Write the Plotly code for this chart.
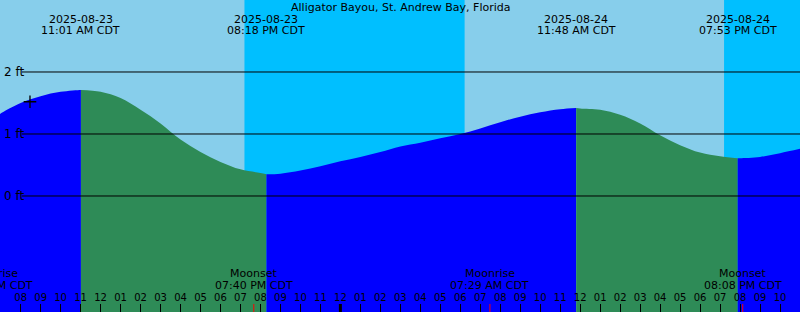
import plotly.graph_objects as go
import pandas as pd

# ---------------- data ----------------
station = "Alligator Bayou, St. Andrew Bay, Florida"

range_start = "2025-08-23 06:58"
range_end = "2025-08-24 23:00"

# hourly tide heights (ft), starting 2025-08-23 07:00
hourly_start = "2025-08-23 07:00"
hourly_heights = [1.33, 1.50, 1.61, 1.68, 1.71, 1.68, 1.58, 1.39, 1.17, 0.91,
                  0.71, 0.55, 0.43, 0.37, 0.36, 0.41, 0.48, 0.56, 0.63, 0.71,
                  0.80, 0.86, 0.93, 1.00, 1.09, 1.19, 1.28, 1.35, 1.40, 1.41,
                  1.39, 1.31, 1.17, 0.98, 0.82, 0.70, 0.64, 0.61, 0.63, 0.69,
                  0.76]
edge_time = "2025-08-23 06:58"
edge_height = 1.32

tide_event_times = ["2025-08-23 11:01", "2025-08-23 20:18",
                    "2025-08-24 11:48", "2025-08-24 19:53"]
tide_event_heights = [1.71, 0.35, 1.42, 0.61]
tide_event_dates = ["2025-08-23", "2025-08-23", "2025-08-24", "2025-08-24"]
tide_event_clock = ["11:01 AM CDT", "08:18 PM CDT", "11:48 AM CDT", "07:53 PM CDT"]

sunset_times = ["2025-08-23 19:12", "2025-08-24 19:12"]
sunrise_times = ["2025-08-24 06:13", "2025-08-24 23:00"]

moon_event_times = ["2025-08-23 06:37", "2025-08-23 19:40",
                    "2025-08-24 07:29", "2025-08-24 20:08"]
moon_event_names = ["Moonrise", "Moonset", "Moonrise", "Moonset"]
moon_event_clock = ["06:37 AM CDT", "07:40 PM CDT", "07:29 AM CDT", "08:08 PM CDT"]

now_time = "2025-08-23 08:28"
now_height = 1.52

level_values = [0, 1, 2]
level_labels = ["0 ft", "1 ft", "2 ft"]

y_range = [-1.871, 3.161]

# ---------------- styling ----------------
W, H = 800, 312
FONT = "DejaVu Sans"
DAY = "#87CEEB"
NIGHT = "#00BFFF"
RISE = "#0000FF"
FALL = "#2E8B57"

T0 = pd.Timestamp(range_start)
T1 = pd.Timestamp(range_end)


def xfrac(t):
    return (pd.Timestamp(t) - T0) / (T1 - T0)


def ypaper(px):
    return 1 - px / H


hourly_times = pd.date_range(hourly_start, periods=len(hourly_heights), freq="h")
pts = [(pd.Timestamp(edge_time), edge_height)]
pts += list(zip(hourly_times, hourly_heights))
pts += [(pd.Timestamp(t), h) for t, h in zip(tide_event_times, tide_event_heights)]
pts.sort(key=lambda p: p[0])

bounds = [pts[0][0]] + [pd.Timestamp(t) for t in tide_event_times] + [pts[-1][0]]

fig = go.Figure()
for i in range(len(bounds) - 1):
    b0, b1 = bounds[i], bounds[i + 1]
    seg = [p for p in pts if b0 <= p[0] <= b1]
    color = RISE if i % 2 == 0 else FALL
    fig.add_trace(go.Scatter(x=[b0, b1], y=[y_range[0], y_range[0]], mode="lines",
                             line=dict(width=0), hoverinfo="skip"))
    fig.add_trace(go.Scatter(x=[p[0] for p in seg], y=[p[1] for p in seg],
                             mode="lines", line=dict(width=0, shape="spline", smoothing=1),
                             fill="tonexty", fillcolor=color, hoverinfo="skip"))

fig.add_trace(go.Scatter(x=[now_time], y=[now_height], mode="markers",
                         marker=dict(symbol="cross-thin", size=9,
                                     line=dict(color="black", width=1.3)),
                         hoverinfo="skip"))

shapes = []
for s, r in zip(sunset_times, sunrise_times):
    shapes.append(dict(type="rect", xref="x", yref="paper", x0=s, x1=r, y0=0, y1=1,
                       fillcolor=NIGHT, line=dict(width=0), layer="below"))
for v in level_values:
    shapes.append(dict(type="line", xref="paper", yref="y", x0=22 / W, x1=1, y0=v, y1=v,
                       line=dict(color="black", width=1), layer="above"))
for t in moon_event_times:
    shapes.append(dict(type="line", xref="x", yref="paper", x0=t, x1=t, y0=0, y1=8 / H,
                       line=dict(color="red", width=1), layer="above"))
shapes.append(dict(type="line", xref="x", yref="paper", x0="2025-08-24 00:00",
                   x1="2025-08-24 00:00", y0=0, y1=8 / H,
                   line=dict(color="black", width=3), layer="above"))

ann = []
f11 = dict(family=FONT, size=11, color="black")
ann.append(dict(text=station, xref="paper", yref="paper", x=0.5, y=ypaper(7.5),
                showarrow=False, font=f11, xanchor="center", yanchor="middle"))
for t, d, c in zip(tide_event_times, tide_event_dates, tide_event_clock):
    for txt, py in ((d, 19), (c, 31)):
        ann.append(dict(text=txt, xref="paper", yref="paper", x=xfrac(t), y=ypaper(py),
                        showarrow=False, font=f11, xanchor="center", yanchor="middle"))
for t, n, c in zip(moon_event_times, moon_event_names, moon_event_clock):
    for txt, py in ((n, 273), (c, 285)):
        ann.append(dict(text=txt, xref="paper", yref="paper", x=xfrac(t), y=ypaper(py),
                        showarrow=False, font=f11, xanchor="center", yanchor="middle"))
for v, lab in zip(level_values, level_labels):
    ann.append(dict(text=lab, xref="paper", yref="y", x=2 / W, y=v,
                    showarrow=False, font=dict(family=FONT, size=12, color="black"),
                    xanchor="left", yanchor="middle"))

fig.update_layout(
    width=W, height=H, margin=dict(l=0, r=0, t=0, b=0),
    paper_bgcolor=DAY, plot_bgcolor=DAY, showlegend=False,
    shapes=shapes, annotations=ann,
    xaxis=dict(type="date", range=[range_start, range_end], showgrid=False,
               zeroline=False, showline=False, ticks="inside", ticklen=8,
               tickcolor="black", tickwidth=1, dtick=3600000,
               tick0="2025-08-23 00:00", tickformat="%I",
               ticklabelposition="inside", tickfont=dict(family=FONT, size=10, color="black")),
    yaxis=dict(range=y_range, visible=False, fixedrange=True),
)

fig.write_html("out.html")
